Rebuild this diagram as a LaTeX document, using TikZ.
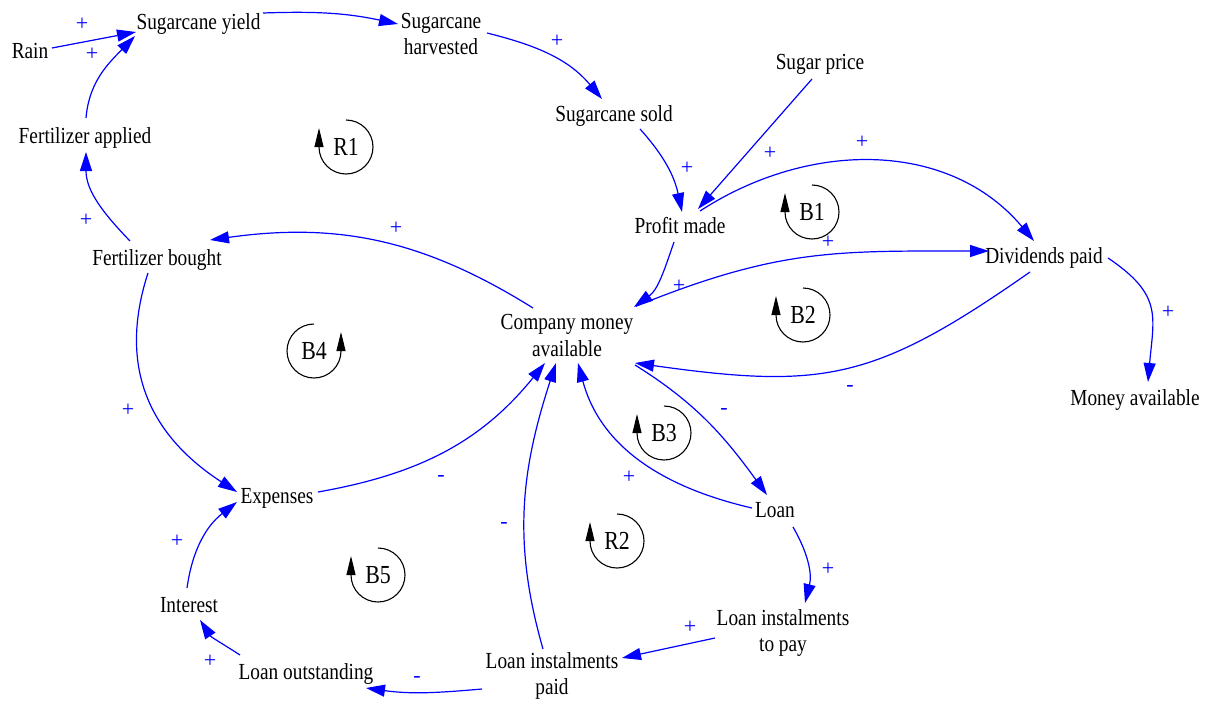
\documentclass[tikz,border=0pt]{standalone}
\usepackage{fontspec}
\setmainfont{Liberation Serif}[FakeStretch=0.84]
\newfontfamily\polfam{Liberation Serif}
\usetikzlibrary{arrows.meta}
\newcommand\varfont{\fontsize{23}{26.5}\selectfont}
\newcommand\loopfont{\fontsize{26}{30}\selectfont}
\newcommand\polfont{\polfam\fontsize{22}{24}\selectfont}
\tikzset{
  var/.style={inner sep=1pt, align=center, font=\varfont},
  link/.style={draw=blue, line width=1.2pt, -{Triangle[length=19pt,width=12pt]}},
  pol/.style={text=blue, font=\polfont, inner sep=0pt},
  loopc/.style={draw=black, line width=1.1pt, -{Triangle[length=19pt,width=9pt]}},
  looplbl/.style={font=\loopfont, inner sep=0pt}
}
\begin{document}
\begin{tikzpicture}[x=1pt,y=1pt]
\fill[white] (0,0) rectangle (1205,-701);
\useasboundingbox (0,0) rectangle (1205,-701);

% variables
\node[var] (rain)     at (30,-53)     {\strut Rain};
\node[var] (yield)    at (198.5,-24)  {\strut Sugarcane yield};
\node[var] (harv)     at (441,-36.4)  {\strut Sugarcane\\\strut harvested};
\node[var] (sold)     at (614,-116.4) {\strut Sugarcane sold};
\node[var] (price)    at (820,-64.7)  {\strut Sugar price};
\node[var] (profit)   at (680,-227.7) {\strut Profit made};
\node[var] (fapp)     at (85,-137.7)  {\strut Fertilizer applied};
\node[var] (fbought)  at (157,-259.7) {\strut Fertilizer bought};
\node[var] (company)  at (567,-337.7) {\strut Company money\\\strut available};
\node[var] (div)      at (1044,-257.7){\strut Dividends paid};
\node[var] (moneyav)  at (1135,-399.7){\strut Money available};
\node[var] (exp)      at (277,-497.7) {\strut Expenses};
\node[var] (loan)     at (775,-511.7) {\strut Loan};
\node[var] (interest) at (189,-606.7) {\strut Interest};
\node[var] (loanout)  at (306,-673.7) {\strut Loan outstanding};
\node[var] (paid)     at (552,-676.2) {\strut Loan instalments\\\strut paid};
\node[var] (topay)    at (783,-633.2) {\strut Loan instalments\\\strut to pay};

% connectors
\draw[link] ([shift={(22,5)}]rain.center) -- ([shift={(-62.5,-8)}]yield.center);
\draw[link] ([shift={(1,19.7)}]fapp.center) to[out=85,in=226] ([shift={(-63.5,-12)}]yield.center);
\draw[link] ([shift={(64.5,11)}]yield.center) to[out=2,in=168] ([shift={(-43,12.4)}]harv.center);
\draw[link] ([shift={(46,3.4)}]harv.center) to[out=-14,in=130] ([shift={(-12,17.4)}]sold.center);
\draw[link] ([shift={(26,-12.6)}]sold.center) to[out=-48,in=102] ([shift={(2,15.7)}]profit.center);
\draw[link] ([shift={(-8,-14.3)}]price.center) -- ([shift={(18,18.7)}]profit.center);
\draw[link] ([shift={(20,16.7)}]profit.center) to[out=33,in=130] ([shift={(-10,16.7)}]div.center);
\draw[link] ([shift={(69,31.5)}]company.center) to[out=22,in=180,looseness=1.1] ([shift={(-55,6.7)}]div.center);
\draw[link] ([shift={(-14,-14.3)}]div.center) to[out=215,in=-8,looseness=1.2] ([shift={(68,-25.3)}]company.center);
\draw[link] ([shift={(64,-0.3)}]div.center) to[out=-34,in=85,looseness=1.3] ([shift={(13,17.7)}]moneyav.center);
\draw[link] ([shift={(-34,29.7)}]company.center) to[out=148,in=8] ([shift={(53,19.7)}]fbought.center);
\draw[link] ([shift={(-27,18.7)}]fbought.center) to[out=134,in=-90] ([shift={(1,-14.3)}]fapp.center);
\draw[link] ([shift={(-9,-13.3)}]fbought.center) to[out=252,in=147,looseness=1.1] ([shift={(-40,5.7)}]exp.center);
\draw[link] ([shift={(41,5.7)}]exp.center) to[out=10,in=231] ([shift={(-22,-25.3)}]company.center);
\draw[link] ([shift={(-2,18.7)}]interest.center) to[out=82,in=218] ([shift={(-40,-4.3)}]exp.center);
\draw[link] ([shift={(-66,18.7)}]loanout.center) to[out=147,in=303] ([shift={(11,-13.3)}]interest.center);
\draw[link] ([shift={(-70,-12.8)}]paid.center) to[out=185,in=352] ([shift={(60,-14.3)}]loanout.center);
\draw[link] ([shift={(-9,27.2)}]paid.center) to[out=106,in=252] ([shift={(-11,-25.3)}]company.center);
\draw[link] ([shift={(-23,3.7)}]loan.center) to[out=167,in=285] ([shift={(11,-25.3)}]company.center);
\draw[link] ([shift={(68,-27.3)}]company.center) to[out=-32,in=126] ([shift={(-8,16.7)}]loan.center);
\draw[link] ([shift={(18,-15.3)}]loan.center) to[out=-60,in=76] ([shift={(22,30.2)}]topay.center);
\draw[link] ([shift={(-68,-4.8)}]topay.center) -- ([shift={(70,18.2)}]paid.center);
\draw[link] ([shift={(-6,-14.3)}]profit.center) to[out=251,in=36] ([shift={(67,30.7)}]company.center);

% polarities
\node[pol] (p1)  at (82,-24)   {+};
\node[pol] (p2)  at (92,-54)   {+};
\node[pol] (p3)  at (557,-41)  {+};
\node[pol] (p4)  at (687,-168) {+};
\node[pol] (p5)  at (770,-153) {+};
\node[pol] (p6)  at (862,-142) {+};
\node[pol] (p7)  at (828,-242) {+};
\node[pol] (p8)  at (679,-286) {+};
\node[pol] (p9)  at (396,-228) {+};
\node[pol] (p10) at (86,-220)  {+};
\node[pol] (p11) at (128,-410) {+};
\node[pol] (p12) at (177,-541) {+};
\node[pol] (p13) at (210,-661) {+};
\node[pol] (p14) at (629,-477) {+};
\node[pol] (p15) at (828,-569) {+};
\node[pol] (p16) at (690,-627) {+};
\node[pol] (p17) at (1168,-312){+};
\node[pol] (m1)  at (441,-478) {-};
\node[pol] (m2)  at (504,-525) {-};
\node[pol] (m3)  at (417,-679) {-};
\node[pol] (m4)  at (724,-411) {-};
\node[pol] (m5)  at (850,-388) {-};

% loop markers
\node[looplbl] (R1) at (346,-147) {R1};
\draw[loopc] ([shift={(0,27)}]R1.center) arc[start angle=90,end angle=-180,radius=27] -- ++(0,19);
\node[looplbl] (B1) at (812,-212) {B1};
\draw[loopc] ([shift={(0,27)}]B1.center) arc[start angle=90,end angle=-180,radius=27] -- ++(0,19);
\node[looplbl] (B2) at (803,-315) {B2};
\draw[loopc] ([shift={(0,27)}]B2.center) arc[start angle=90,end angle=-180,radius=27] -- ++(0,19);
\node[looplbl] (B3) at (664,-433) {B3};
\draw[loopc] ([shift={(0,27)}]B3.center) arc[start angle=90,end angle=-180,radius=27] -- ++(0,19);
\node[looplbl] (R2) at (617,-541) {R2};
\draw[loopc] ([shift={(0,27)}]R2.center) arc[start angle=90,end angle=-180,radius=27] -- ++(0,19);
\node[looplbl] (B5) at (378,-575) {B5};
\draw[loopc] ([shift={(0,27)}]B5.center) arc[start angle=90,end angle=-180,radius=27] -- ++(0,19);
\node[looplbl] (B4) at (314,-351) {B4};
\draw[loopc] ([shift={(0,27)}]B4.center) arc[start angle=90,end angle=360,radius=27] -- ++(0,19);
\end{tikzpicture}
\end{document}
